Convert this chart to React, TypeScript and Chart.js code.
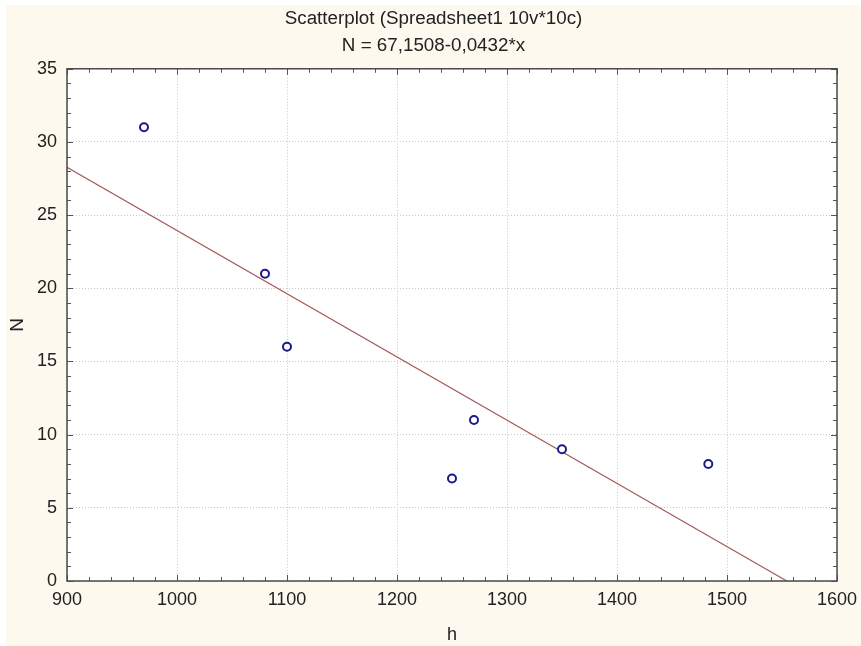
import React, { useEffect, useRef } from "react";
import { Chart, registerables } from "chart.js";

Chart.register(...registerables);

const titleLines = ["Scatterplot (Spreadsheet1 10v*10c)", "N = 67,1508-0,0432*x"];
const xTitle = "h";
const yTitle = "N";

const hValues = [970, 1080, 1100, 1250, 1270, 1350, 1483];
const nValues = [31, 21, 16, 7, 11, 9, 8];

const fitX = [900, 1554.4];
const fitY = [28.27, 0];

const xMin = 900, xMax = 1600, xStep = 100, xMinor = 20;
const yMin = 0, yMax = 35, yStep = 5, yMinor = 1;

const FONT = "'Liberation Sans', Arial, sans-serif";

const framePlugin = {
  id: "frame",
  beforeDraw(chart: any) {
    const { ctx, chartArea } = chart;
    ctx.save();
    ctx.fillStyle = "#ffffff";
    ctx.fillRect(0, 0, chart.width, chart.height);
    ctx.fillStyle = "#fdf9ee";
    ctx.fillRect(6, 5, chart.width - 6, chart.height - 5);
    ctx.fillStyle = "#ffffff";
    ctx.fillRect(chartArea.left, chartArea.top, chartArea.right - chartArea.left, chartArea.bottom - chartArea.top);
    ctx.restore();
  },
  afterDatasetsDraw(chart: any) {
    const { ctx, chartArea, scales } = chart;
    const { left, right, top, bottom } = chartArea;
    ctx.save();
    ctx.strokeStyle = "#555555";
    ctx.lineWidth = 1;
    ctx.beginPath();
    for (let v = xMin; v <= xMax + 1e-9; v += xMinor) {
      const px = Math.round(scales.x.getPixelForValue(v)) + 0.5;
      const major = Math.abs((v - xMin) % xStep) < 1e-6;
      const len = major ? 6 : 4;
      ctx.moveTo(px, bottom);
      ctx.lineTo(px, bottom - len);
      ctx.moveTo(px, top);
      ctx.lineTo(px, top + len);
    }
    for (let v = yMin; v <= yMax + 1e-9; v += yMinor) {
      const py = Math.round(scales.y.getPixelForValue(v)) + 0.5;
      const major = Math.abs((v - yMin) % yStep) < 1e-6;
      const len = major ? 6 : 4;
      ctx.moveTo(left, py);
      ctx.lineTo(left + len, py);
      ctx.moveTo(right, py);
      ctx.lineTo(right - len, py);
    }
    ctx.stroke();
    ctx.strokeStyle = "#4a4a4a";
    ctx.lineWidth = 1.5;
    ctx.strokeRect(left, top, right - left, bottom - top);
    ctx.restore();
  },
};

export default function App() {
  const ref = useRef<HTMLCanvasElement | null>(null);

  useEffect(() => {
    document.body.style.margin = "0";
    const canvas = ref.current;
    if (!canvas) return;
    const chart = new Chart(canvas, {
      type: "scatter",
      data: {
        datasets: [
          {
            type: "line",
            label: "fit",
            data: fitX.map((x, i) => ({ x, y: fitY[i] })),
            borderColor: "#a65a5a",
            borderWidth: 1.2,
            pointRadius: 0,
            fill: false,
            order: 2,
          } as any,
          {
            label: "points",
            data: hValues.map((x, i) => ({ x, y: nValues[i] })),
            pointStyle: "circle",
            pointRadius: 4,
            pointBorderWidth: 2,
            pointBorderColor: "#1a1a8c",
            pointBackgroundColor: "#ffffff",
            order: 1,
          },
        ],
      },
      options: {
        animation: false,
        responsive: false,
        devicePixelRatio: 1,
        layout: { padding: { left: 6, right: 0, top: 0, bottom: 0 } },
        plugins: {
          legend: { display: false },
          tooltip: { enabled: false },
          title: {
            display: true,
            text: titleLines,
            color: "#222222",
            font: { family: FONT, size: 18.8, weight: "normal", lineHeight: 1.43 },
            padding: { top: 5, bottom: 10 },
          },
        },
        scales: {
          x: {
            type: "linear",
            min: xMin,
            max: xMax,
            ticks: {
              stepSize: xStep,
              color: "#222222",
              font: { family: FONT, size: 18 },
              padding: 8,
              callback: (v: any) => String(v),
            },
            grid: {
              color: "#c8c8c8",
              drawTicks: false,
              tickLength: 0,
            },
            border: { display: false, dash: [1, 2] },
            title: {
              display: true,
              text: xTitle,
              color: "#222222",
              font: { family: FONT, size: 18 },
              padding: { top: 0, bottom: 0 },
            },
            afterFit(scale: any) {
              scale.height = 65;
              scale.paddingLeft = 0;
              scale.paddingRight = 24;
            },
          },
          y: {
            type: "linear",
            min: yMin,
            max: yMax,
            ticks: {
              stepSize: yStep,
              color: "#222222",
              font: { family: FONT, size: 18 },
              padding: 10,
              callback: (v: any) => String(v),
            },
            grid: {
              color: "#c8c8c8",
              drawTicks: false,
              tickLength: 0,
            },
            border: { display: false, dash: [1, 2] },
            title: {
              display: true,
              text: yTitle,
              color: "#222222",
              font: { family: FONT, size: 19 },
              padding: { top: 0, bottom: 0 },
            },
            afterFit(scale: any) {
              scale.width = 61;
              scale.paddingTop = 0;
              scale.paddingBottom = 0;
            },
          },
        },
      },
      plugins: [framePlugin],
    });
    return () => chart.destroy();
  }, []);

  return (
    <div style={{ width: 861, height: 646 }}>
      <canvas ref={ref} width={861} height={646} style={{ display: "block" }} />
    </div>
  );
}
